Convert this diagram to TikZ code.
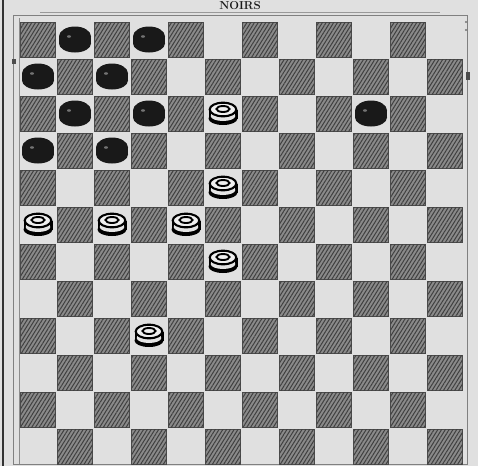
\documentclass[tikz,border=0pt]{standalone}
\usetikzlibrary{patterns.meta}
\begin{document}
\begin{tikzpicture}[x=1pt,y=-1pt,
  paper/.style={fill=black!12},
  darksq/.style={fill=black!46, draw=black!70, line width=0.8pt,
    postaction={pattern={Lines[angle=58,distance=3.2pt,line width=1pt]}, pattern color=black!75}},
  framerule/.style={draw=black!50, line width=0.8pt},
  pageedge/.style={draw=black!80, line width=2.4pt},
  titletext/.style={font=\bfseries\fontsize{11.5}{11.5}\selectfont, text=black!90, anchor=base, inner sep=0pt},
  blackman/.pic={
    \fill[black!90] (0,4) ellipse [x radius=16pt, y radius=9pt];
    \fill[black!90] (-16,-3) rectangle (16,4);
    \fill[black!90] (0,-3) ellipse [x radius=16pt, y radius=10pt];
    \fill[black!55] (-6,-3) ellipse [x radius=2pt, y radius=1.3pt];
  },
  whiteman/.pic={
    \fill[black] (0,5) ellipse [x radius=14.5pt, y radius=6.5pt];
    \fill[black] (-14.5,-4) rectangle (14.5,5);
    \fill[black!10] (-12.3,-4) rectangle (12.3,2.5);
    \fill[black!10] (0,2.5) ellipse [x radius=12.3pt, y radius=5pt];
    \filldraw[fill=black!6, draw=black, line width=2.1pt] (0,-4) ellipse [x radius=13.3pt, y radius=6.8pt];
    \draw[black, line width=1.9pt] (0,-4.5) ellipse [x radius=6.5pt, y radius=3pt];
  }]
\useasboundingbox (0,0) rectangle (478,466);
\path[paper] (0,0) rectangle (478,466);
% page edge and frame
\draw[pageedge] (3,0) -- (3,466);
\draw[framerule] (13,15) -- (467,15) -- (467,464) -- (13,464) -- cycle;
\draw[draw=black!40, line width=0.6pt] (40,12.5) -- (440,12.5);
\draw[draw=black!45, line width=0.6pt] (19,18) -- (19,464);
\fill[black!70] (12,59) rectangle (16,64);
\fill[black!70] (466,72) rectangle (470,80);
\fill[black!55] (466,22) circle (1.2pt);
\fill[black!55] (466,30) circle (1.2pt);
% title
\node[titletext] (title) at (240,9.5) {NOIRS};
% dark squares
\foreach \r in {0,...,11}{
  \pgfmathtruncatemacro\off{mod(\r,2)}
  \foreach \k in {0,...,5}{
    \pgfmathtruncatemacro\c{2*\k+\off}
    \path[darksq] ({19.5+\c*37+1},{21+\r*37+1}) rectangle ++(35,35);
  }
}
% black pieces
\foreach \r/\c in {0/1,0/3,1/0,1/2,2/1,2/3,2/9,3/0,3/2}{
  \pic at ({19.5+(\c+0.5)*37},{21+(\r+0.5)*37}) {blackman};
}
% white pieces
\foreach \r/\c in {2/5,4/5,5/0,5/2,5/4,6/5,8/3}{
  \pic at ({19.5+(\c+0.5)*37},{21+(\r+0.5)*37}) {whiteman};
}
\end{tikzpicture}
\end{document}
